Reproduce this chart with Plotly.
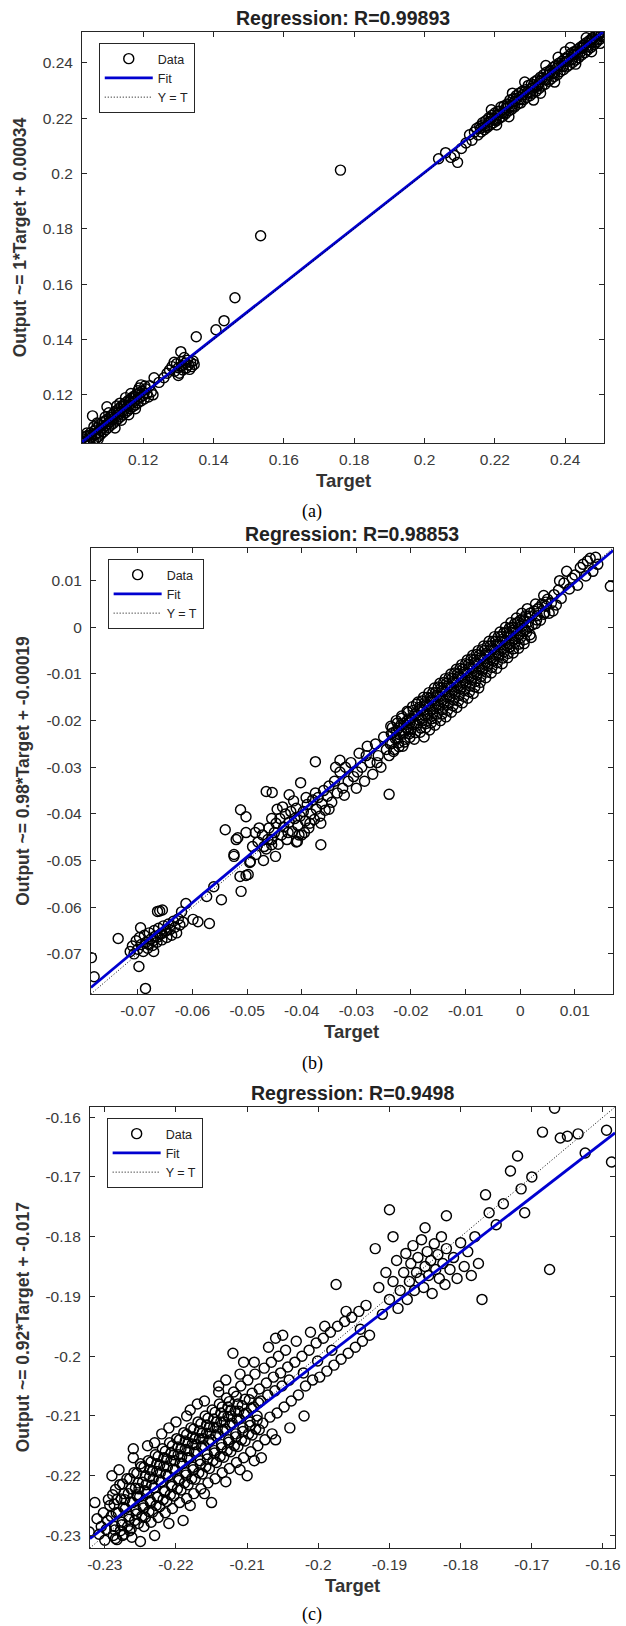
import plotly.graph_objects as go

# ---------------- DATA ----------------
# Panel (a): (target, output) pairs
a_low = [
(0.1030,0.1045),(0.1034,0.1038),(0.1038,0.1031),(0.1041,0.1052),(0.1045,0.1040),(0.1048,0.1029),(0.1050,0.1062),(0.1053,0.1047),(0.1056,0.1124),(0.1058,0.1035),
(0.1061,0.1070),(0.1063,0.1055),(0.1066,0.1042),(0.1068,0.1081),(0.1071,0.1063),(0.1073,0.1050),(0.1076,0.1092),(0.1078,0.1071),(0.1080,0.1058),(0.1083,0.1100),
(0.1085,0.1080),(0.1087,0.1066),(0.1090,0.1105),(0.1092,0.1088),(0.1094,0.1074),(0.1097,0.1157),(0.1099,0.1096),(0.1101,0.1082),(0.1104,0.1118),(0.1106,0.1103),
(0.1108,0.1090),(0.1110,0.1125),(0.1113,0.1110),(0.1115,0.1097),(0.1117,0.1135),(0.1119,0.1118),(0.1122,0.1105),(0.1124,0.1143),(0.1126,0.1126),(0.1128,0.1112),
(0.1131,0.1150),(0.1133,0.1133),(0.1135,0.1120),(0.1137,0.1158),(0.1140,0.1141),(0.1142,0.1127),(0.1144,0.1165),(0.1147,0.1148),(0.1149,0.1135),(0.1151,0.1172),
(0.1153,0.1155),(0.1156,0.1142),(0.1158,0.1180),(0.1160,0.1162),(0.1163,0.1150),(0.1165,0.1187),(0.1167,0.1170),(0.1170,0.1157),(0.1172,0.1194),(0.1175,0.1177),
(0.1177,0.1163),(0.1180,0.1200),(0.1182,0.1184),(0.1185,0.1171),(0.1188,0.1207),(0.1191,0.1191),(0.1194,0.1178),(0.1197,0.1213),(0.1200,0.1198),(0.1203,0.1185),
(0.1207,0.1222),(0.1211,0.1205),(0.1215,0.1192),(0.1219,0.1233),(0.1223,0.1210),
(0.1060,0.1085),(0.1072,0.1040),(0.1092,0.1120),(0.1120,0.1080),(0.1125,0.1160),(0.1138,0.1108),(0.1150,0.1190),(0.1165,0.1205),(0.1178,0.1150),(0.1185,0.1215),
(0.1194,0.1236),(0.1203,0.1207),(0.1228,0.1200),(0.1040,0.1062),(0.1047,0.1033),
(0.1036,0.1050),(0.1052,0.1055),(0.1065,0.1060),(0.1082,0.1088),(0.1096,0.1110),(0.1112,0.1120),(0.1130,0.1138),(0.1146,0.1160),(0.1162,0.1175),(0.1176,0.1190),
(0.1069,0.1098),(0.1102,0.1135),(0.1134,0.1170),(0.1159,0.1128),(0.1189,0.1225),(0.1205,0.1232),
]
a_mid = [
(0.1231,0.1262),(0.1259,0.1262),(0.1245,0.1245),(0.1268,0.1278),(0.1275,0.1290),(0.1282,0.1302),(0.1290,0.1285),(0.1295,0.1312),(0.1300,0.1298),(0.1303,0.1278),
(0.1308,0.1320),(0.1310,0.1305),(0.1313,0.1290),(0.1317,0.1335),(0.1320,0.1315),(0.1322,0.1296),(0.1326,0.1325),(0.1329,0.1308),(0.1332,0.1292),(0.1335,0.1318),
(0.1338,0.1302),(0.1342,0.1322),(0.1300,0.1270),(0.1288,0.1318),(0.1345,0.1310),(0.1307,0.1356),(0.1351,0.1410),(0.1407,0.1435),(0.1430,0.1468),(0.1461,0.1551),
(0.1534,0.1775),(0.1761,0.2012),
]
a_high = [
(0.2040,0.2053),(0.2060,0.2075),(0.2075,0.2058),(0.2085,0.2065),(0.2094,0.2040),(0.2105,0.2090),(0.2118,0.2110),(0.2128,0.2140),(0.2135,0.2120),(0.2142,0.2150),
(0.2148,0.2162),(0.2152,0.2139),(0.2157,0.2170),(0.2161,0.2150),(0.2165,0.2183),(0.2170,0.2158),(0.2174,0.2190),(0.2178,0.2166),(0.2183,0.2201),(0.2187,0.2175),
(0.2191,0.2209),(0.2196,0.2183),(0.2200,0.2218),(0.2204,0.2190),(0.2209,0.2225),(0.2213,0.2199),(0.2217,0.2240),(0.2222,0.2206),(0.2226,0.2244),(0.2230,0.2215),
(0.2235,0.2251),(0.2239,0.2226),(0.2243,0.2265),(0.2248,0.2232),(0.2252,0.2270),(0.2256,0.2240),(0.2261,0.2281),(0.2265,0.2250),(0.2269,0.2290),(0.2274,0.2255),
(0.2278,0.2297),(0.2282,0.2266),(0.2287,0.2302),(0.2291,0.2275),(0.2295,0.2318),(0.2300,0.2281),(0.2304,0.2323),(0.2308,0.2290),(0.2313,0.2331),(0.2317,0.2296),
(0.2321,0.2338),(0.2326,0.2307),(0.2330,0.2348),(0.2334,0.2316),(0.2339,0.2357),(0.2343,0.2322),(0.2347,0.2366),(0.2352,0.2333),(0.2356,0.2372),(0.2360,0.2341),
(0.2365,0.2383),(0.2369,0.2350),(0.2373,0.2390),(0.2378,0.2357),(0.2382,0.2398),(0.2386,0.2368),(0.2391,0.2405),(0.2395,0.2375),(0.2399,0.2415),(0.2404,0.2385),
(0.2408,0.2423),(0.2412,0.2392),(0.2417,0.2433),(0.2421,0.2401),(0.2425,0.2440),(0.2430,0.2410),(0.2434,0.2447),(0.2438,0.2418),(0.2443,0.2456),(0.2447,0.2428),
(0.2451,0.2463),(0.2456,0.2436),(0.2460,0.2472),(0.2464,0.2446),(0.2469,0.2480),(0.2473,0.2455),(0.2477,0.2490),(0.2482,0.2465),(0.2486,0.2497),(0.2490,0.2475),
(0.2495,0.2505),(0.2499,0.2485),(0.2503,0.2508),(0.2506,0.2494),
(0.2160,0.2163),(0.2172,0.2170),(0.2184,0.2187),(0.2196,0.2196),(0.2208,0.2212),(0.2220,0.2218),(0.2232,0.2236),(0.2244,0.2244),(0.2256,0.2260),(0.2268,0.2266),
(0.2280,0.2284),(0.2292,0.2292),(0.2304,0.2308),(0.2316,0.2314),(0.2328,0.2332),(0.2340,0.2340),(0.2352,0.2356),(0.2364,0.2362),(0.2376,0.2380),(0.2388,0.2388),
(0.2400,0.2404),(0.2412,0.2410),(0.2424,0.2428),(0.2436,0.2436),(0.2448,0.2452),(0.2460,0.2458),(0.2472,0.2476),(0.2484,0.2484),(0.2496,0.2500),
(0.2190,0.2230),(0.2240,0.2205),(0.2285,0.2330),(0.2310,0.2265),(0.2345,0.2390),(0.2370,0.2330),(0.2400,0.2440),(0.2430,0.2395),(0.2460,0.2490),(0.2475,0.2440),
(0.2250,0.2290),(0.2205,0.2175),(0.2330,0.2290),(0.2415,0.2455),(0.2500,0.2470),(0.2510,0.2510),(0.2380,0.2420),
(0.2166,0.2175),(0.2178,0.2172),(0.2190,0.2200),(0.2202,0.2195),(0.2214,0.2225),(0.2226,0.2218),(0.2238,0.2248),(0.2250,0.2243),(0.2262,0.2272),(0.2274,0.2267),
(0.2286,0.2296),(0.2298,0.2290),(0.2310,0.2320),(0.2322,0.2315),(0.2334,0.2344),(0.2346,0.2338),(0.2358,0.2368),(0.2370,0.2362),(0.2382,0.2392),(0.2394,0.2386),
(0.2406,0.2416),(0.2418,0.2410),(0.2430,0.2440),(0.2442,0.2434),(0.2454,0.2464),(0.2466,0.2458),(0.2478,0.2486),(0.2490,0.2482),(0.2502,0.2498),
]

# Panel (b)
b_low = [
(-0.0785,-0.0708),(-0.0780,-0.0749),(-0.0736,-0.0667),(-0.0686,-0.0774),(-0.0698,-0.0727),(-0.0671,-0.0695),(-0.0695,-0.0644),
(-0.0714,-0.0695),(-0.0710,-0.0683),(-0.0707,-0.0700),(-0.0703,-0.0672),(-0.0700,-0.0690),(-0.0697,-0.0665),(-0.0694,-0.0680),(-0.0690,-0.0695),
(-0.0688,-0.0660),(-0.0685,-0.0675),(-0.0682,-0.0688),(-0.0679,-0.0655),(-0.0676,-0.0668),(-0.0673,-0.0682),(-0.0670,-0.0650),(-0.0668,-0.0662),
(-0.0665,-0.0675),(-0.0662,-0.0645),(-0.0659,-0.0658),(-0.0656,-0.0670),(-0.0653,-0.0640),(-0.0650,-0.0652),(-0.0647,-0.0665),(-0.0644,-0.0636),
(-0.0641,-0.0648),(-0.0638,-0.0660),(-0.0635,-0.0630),(-0.0632,-0.0643),(-0.0629,-0.0655),(-0.0626,-0.0625),(-0.0623,-0.0638),(-0.0620,-0.0610),
(-0.0617,-0.0632),(-0.0680,-0.0680),(-0.0672,-0.0672),(-0.0664,-0.0664),(-0.0656,-0.0656),(-0.0648,-0.0650),(-0.0664,-0.0609),(-0.0660,-0.0608),
(-0.0655,-0.0606),
(-0.0612,-0.0592),(-0.0599,-0.0626),(-0.0590,-0.0631),(-0.0569,-0.0635),(-0.0574,-0.0577),(-0.0561,-0.0556),(-0.0547,-0.0584),(-0.0524,-0.0491),
(-0.0511,-0.0566),(-0.0502,-0.0532),(-0.0495,-0.0504),(-0.0513,-0.0534),(-0.0484,-0.0487),(-0.0469,-0.0470),(-0.0448,-0.0491),(-0.0455,-0.0466),
(-0.0408,-0.0459),(-0.0365,-0.0466),(-0.0520,-0.0455),
]
b_mid = [
(-0.0540,-0.0434),(-0.0512,-0.0391),(-0.0502,-0.0406),(-0.0517,-0.0451),(-0.0502,-0.0440),(-0.0524,-0.0487),(-0.0498,-0.0530),(-0.0494,-0.0502),
(-0.0465,-0.0352),(-0.0454,-0.0354),(-0.0423,-0.0359),(-0.0402,-0.0333),(-0.0375,-0.0288),
(-0.0480,-0.0460),(-0.0472,-0.0445),(-0.0465,-0.0475),(-0.0460,-0.0430),(-0.0455,-0.0455),(-0.0450,-0.0440),(-0.0447,-0.0420),(-0.0443,-0.0465),
(-0.0440,-0.0410),(-0.0437,-0.0445),(-0.0433,-0.0428),(-0.0430,-0.0400),(-0.0427,-0.0455),(-0.0423,-0.0418),(-0.0420,-0.0395),(-0.0417,-0.0438),
(-0.0413,-0.0410),(-0.0410,-0.0388),(-0.0407,-0.0425),(-0.0403,-0.0405),(-0.0400,-0.0445),(-0.0397,-0.0395),(-0.0393,-0.0415),(-0.0390,-0.0380),
(-0.0387,-0.0430),(-0.0383,-0.0400),(-0.0380,-0.0370),(-0.0377,-0.0412),(-0.0373,-0.0390),(-0.0370,-0.0365),(-0.0367,-0.0405),(-0.0363,-0.0378),
(-0.0360,-0.0350),(-0.0357,-0.0392),(-0.0353,-0.0362),(-0.0350,-0.0340),(-0.0345,-0.0375),(-0.0340,-0.0330),(-0.0335,-0.0355),(-0.0330,-0.0310),
(-0.0325,-0.0345),(-0.0320,-0.0300),(-0.0315,-0.0330),(-0.0310,-0.0290),(-0.0305,-0.0320),(-0.0470,-0.0500),(-0.0490,-0.0470),(-0.0485,-0.0440),
(-0.0445,-0.0390),(-0.0410,-0.0460),(-0.0395,-0.0440),(-0.0350,-0.0390),(-0.0330,-0.0285),(-0.0300,-0.0345),(-0.0295,-0.0270),(-0.0290,-0.0300),
(-0.0285,-0.0330),(-0.0280,-0.0255),(-0.0275,-0.0290),(-0.0270,-0.0315),(-0.0265,-0.0250),(-0.0260,-0.0275),(-0.0255,-0.0300),(-0.0250,-0.0235),
(-0.0245,-0.0262),(-0.0240,-0.0358),
(-0.0435,-0.0385),(-0.0425,-0.0440),(-0.0415,-0.0372),(-0.0405,-0.0445),(-0.0392,-0.0365),(-0.0385,-0.0420),(-0.0375,-0.0355),(-0.0365,-0.0420),
(-0.0455,-0.0410),(-0.0462,-0.0455),(-0.0478,-0.0430),(-0.0338,-0.0300),(-0.0322,-0.0360),(-0.0298,-0.0310),(-0.0282,-0.0275),(-0.0262,-0.0290),
]
b_high = [
(-0.0240,-0.0275),(-0.0238,-0.0250),(-0.0236,-0.0228),(-0.0234,-0.0215),
(-0.0231,-0.0262),(-0.0229,-0.0238),(-0.0227,-0.0222),(-0.0225,-0.0205),(-0.0223,-0.0248),
(-0.0221,-0.0230),(-0.0219,-0.0210),(-0.0217,-0.0195),(-0.0215,-0.0255),(-0.0213,-0.0222),
(-0.0211,-0.0240),(-0.0209,-0.0215),(-0.0207,-0.0200),(-0.0205,-0.0182),(-0.0203,-0.0228),(-0.0202,-0.0205),
(-0.0200,-0.0218),(-0.0198,-0.0195),(-0.0196,-0.0178),(-0.0194,-0.0240),(-0.0192,-0.0205),(-0.0190,-0.0165),
(-0.0189,-0.0210),(-0.0187,-0.0188),(-0.0185,-0.0172),(-0.0183,-0.0225),(-0.0181,-0.0195),(-0.0180,-0.0158),
(-0.0179,-0.0200),(-0.0177,-0.0178),(-0.0175,-0.0162),(-0.0173,-0.0215),(-0.0171,-0.0185),(-0.0170,-0.0150),(-0.0176,-0.0235),
(-0.0169,-0.0190),(-0.0167,-0.0168),(-0.0165,-0.0152),(-0.0163,-0.0205),(-0.0161,-0.0175),(-0.0160,-0.0140),(-0.0166,-0.0220),
(-0.0159,-0.0182),(-0.0157,-0.0158),(-0.0155,-0.0140),(-0.0153,-0.0195),(-0.0151,-0.0165),(-0.0150,-0.0128),(-0.0156,-0.0210),
(-0.0149,-0.0172),(-0.0147,-0.0148),(-0.0145,-0.0130),(-0.0143,-0.0186),(-0.0141,-0.0155),(-0.0140,-0.0118),(-0.0146,-0.0200),
(-0.0139,-0.0162),(-0.0137,-0.0138),(-0.0135,-0.0120),(-0.0133,-0.0178),(-0.0131,-0.0145),(-0.0130,-0.0108),(-0.0136,-0.0192),
(-0.0129,-0.0152),(-0.0127,-0.0128),(-0.0125,-0.0110),(-0.0123,-0.0168),(-0.0121,-0.0135),(-0.0120,-0.0098),(-0.0126,-0.0182),
(-0.0119,-0.0142),(-0.0117,-0.0118),(-0.0115,-0.0100),(-0.0113,-0.0158),(-0.0111,-0.0125),(-0.0110,-0.0088),(-0.0116,-0.0172),
(-0.0109,-0.0132),(-0.0107,-0.0108),(-0.0105,-0.0090),(-0.0103,-0.0148),(-0.0101,-0.0115),(-0.0100,-0.0078),(-0.0106,-0.0162),
(-0.0099,-0.0122),(-0.0097,-0.0098),(-0.0095,-0.0080),(-0.0093,-0.0138),(-0.0091,-0.0105),(-0.0090,-0.0068),(-0.0096,-0.0152),
(-0.0089,-0.0112),(-0.0087,-0.0088),(-0.0085,-0.0070),(-0.0083,-0.0128),(-0.0081,-0.0095),(-0.0080,-0.0058),(-0.0086,-0.0142),
(-0.0079,-0.0102),(-0.0077,-0.0078),(-0.0075,-0.0060),(-0.0073,-0.0118),(-0.0071,-0.0085),(-0.0070,-0.0048),(-0.0076,-0.0130),
(-0.0069,-0.0092),(-0.0067,-0.0068),(-0.0065,-0.0050),(-0.0063,-0.0108),(-0.0061,-0.0075),(-0.0060,-0.0040),
(-0.0059,-0.0082),(-0.0057,-0.0058),(-0.0055,-0.0040),(-0.0053,-0.0098),(-0.0051,-0.0065),(-0.0050,-0.0030),
(-0.0049,-0.0072),(-0.0047,-0.0048),(-0.0045,-0.0030),(-0.0043,-0.0088),(-0.0041,-0.0055),(-0.0040,-0.0020),
(-0.0039,-0.0062),(-0.0037,-0.0038),(-0.0035,-0.0020),(-0.0033,-0.0078),(-0.0031,-0.0045),(-0.0030,-0.0012),
(-0.0029,-0.0052),(-0.0027,-0.0028),(-0.0025,-0.0010),(-0.0023,-0.0065),(-0.0021,-0.0035),(-0.0020,-0.0002),
(-0.0019,-0.0042),(-0.0017,-0.0018),(-0.0015,0.0000),(-0.0013,-0.0055),(-0.0011,-0.0025),(-0.0010,0.0008),
(-0.0009,-0.0032),(-0.0007,-0.0008),(-0.0005,0.0010),(-0.0003,-0.0045),(-0.0001,-0.0015),(0.0000,0.0015),
(0.0001,-0.0022),(0.0003,0.0002),(0.0005,0.0018),(0.0007,-0.0035),(0.0009,-0.0005),(0.0010,0.0025),
(0.0012,-0.0010),(0.0015,0.0012),(0.0018,0.0030),(0.0020,-0.0022),(0.0022,0.0005),
(0.0025,0.0035),(0.0028,0.0008),(0.0031,0.0025),(0.0034,0.0042),(0.0037,0.0015),
(0.0040,0.0050),(0.0043,0.0028),(0.0047,0.0045),(0.0050,0.0060),(0.0053,0.0030),(0.0057,0.0052),
(0.0062,0.0070),(0.0066,0.0048),(0.0070,0.0080),(0.0075,0.0062),(0.0080,0.0095),(0.0085,0.0120),(0.0090,0.0082),
(0.0095,0.0105),(0.0100,0.0112),(0.0105,0.0090),(0.0110,0.0128),(0.0115,0.0135),(0.0120,0.0110),(0.0123,0.0142),
(0.0128,0.0148),(0.0133,0.0120),(0.0138,0.0150),(0.0142,0.0135),(0.0165,0.0088),(0.0060,0.0035),(0.0072,0.0100),
]
b_fill = [
(-0.0235,-0.0249),(-0.0233,-0.0226),(-0.0237,-0.0212),(-0.0232,-0.0266),
(-0.0225,-0.0239),(-0.0223,-0.0216),(-0.0227,-0.0200),(-0.0222,-0.0256),
(-0.0215,-0.0229),(-0.0213,-0.0206),(-0.0217,-0.0190),(-0.0212,-0.0246),
(-0.0205,-0.0219),(-0.0203,-0.0196),(-0.0207,-0.0180),(-0.0202,-0.0236),
(-0.0195,-0.0209),(-0.0193,-0.0186),(-0.0197,-0.0170),(-0.0192,-0.0226),
(-0.0185,-0.0199),(-0.0183,-0.0176),(-0.0187,-0.0160),(-0.0182,-0.0216),
(-0.0175,-0.0189),(-0.0173,-0.0166),(-0.0177,-0.0150),(-0.0172,-0.0206),
(-0.0165,-0.0179),(-0.0163,-0.0156),(-0.0167,-0.0140),(-0.0162,-0.0196),
(-0.0155,-0.0169),(-0.0153,-0.0146),(-0.0157,-0.0130),(-0.0152,-0.0186),
(-0.0145,-0.0159),(-0.0143,-0.0136),(-0.0147,-0.0120),(-0.0142,-0.0176),
(-0.0135,-0.0149),(-0.0133,-0.0126),(-0.0137,-0.0110),(-0.0132,-0.0166),
(-0.0125,-0.0139),(-0.0123,-0.0116),(-0.0127,-0.0100),(-0.0122,-0.0156),
(-0.0115,-0.0129),(-0.0113,-0.0106),(-0.0117,-0.0090),(-0.0112,-0.0146),
(-0.0105,-0.0119),(-0.0103,-0.0096),(-0.0107,-0.0080),(-0.0102,-0.0136),
(-0.0095,-0.0109),(-0.0093,-0.0086),(-0.0097,-0.0070),(-0.0092,-0.0126),
(-0.0085,-0.0099),(-0.0083,-0.0076),(-0.0087,-0.0060),(-0.0082,-0.0116),
(-0.0075,-0.0089),(-0.0073,-0.0066),(-0.0077,-0.0050),(-0.0072,-0.0106),
(-0.0065,-0.0079),(-0.0063,-0.0056),(-0.0067,-0.0040),(-0.0062,-0.0096),
(-0.0055,-0.0069),(-0.0053,-0.0046),(-0.0057,-0.0030),(-0.0052,-0.0086),
(-0.0045,-0.0059),(-0.0043,-0.0036),(-0.0047,-0.0020),(-0.0042,-0.0076),
(-0.0035,-0.0049),(-0.0033,-0.0026),(-0.0037,-0.0010),(-0.0032,-0.0066),
(-0.0025,-0.0039),(-0.0023,-0.0016),(-0.0027,0.0000),(-0.0022,-0.0056),
(-0.0015,-0.0029),(-0.0013,-0.0006),(-0.0017,0.0010),(-0.0012,-0.0046),
(-0.0005,-0.0019),(-0.0003,0.0004),(-0.0007,0.0020),(-0.0002,-0.0036),
(0.0005,-0.0009),(0.0007,0.0014),(0.0003,0.0030),(0.0008,-0.0026),
(0.0015,0.0001),(0.0017,0.0024),(0.0013,0.0040),(0.0018,-0.0016),
(0.0030,0.0016),(0.0032,0.0039),(0.0028,0.0050),
(0.0045,0.0031),(0.0047,0.0054),(0.0043,0.0068),
]

# Panel (c)
c_low = [
(-0.2322,-0.2294),(-0.2314,-0.2245),(-0.2308,-0.2298),(-0.2311,-0.2272),(-0.2305,-0.2285),(-0.2262,-0.2303),
(-0.2302,-0.2262),(-0.2298,-0.2290),(-0.2295,-0.2240),(-0.2300,-0.2308),(-0.2296,-0.2275),
(-0.2293,-0.2250),(-0.2288,-0.2300),(-0.2291,-0.2268),(-0.2286,-0.2285),(-0.2289,-0.2232),(-0.2285,-0.2305),
(-0.2283,-0.2240),(-0.2278,-0.2292),(-0.2281,-0.2262),(-0.2276,-0.2278),(-0.2279,-0.2215),(-0.2275,-0.2300),
(-0.2273,-0.2230),(-0.2268,-0.2285),(-0.2271,-0.2255),(-0.2266,-0.2268),(-0.2269,-0.2205),(-0.2265,-0.2292),(-0.2272,-0.2240),
(-0.2263,-0.2222),(-0.2258,-0.2275),(-0.2261,-0.2245),(-0.2256,-0.2258),(-0.2259,-0.2195),(-0.2255,-0.2232),
(-0.2253,-0.2212),(-0.2248,-0.2268),(-0.2251,-0.2235),(-0.2246,-0.2250),(-0.2249,-0.2185),(-0.2245,-0.2285),(-0.2252,-0.2222),
(-0.2243,-0.2200),(-0.2238,-0.2260),(-0.2241,-0.2228),(-0.2236,-0.2242),(-0.2239,-0.2175),(-0.2235,-0.2278),(-0.2242,-0.2215),(-0.2237,-0.2190),
(-0.2233,-0.2192),(-0.2228,-0.2250),(-0.2231,-0.2220),(-0.2226,-0.2235),(-0.2229,-0.2165),(-0.2225,-0.2270),(-0.2232,-0.2205),(-0.2227,-0.2180),
(-0.2223,-0.2182),(-0.2218,-0.2240),(-0.2221,-0.2210),(-0.2216,-0.2225),(-0.2219,-0.2155),(-0.2215,-0.2262),(-0.2222,-0.2195),(-0.2217,-0.2170),
(-0.2213,-0.2172),(-0.2208,-0.2232),(-0.2211,-0.2200),(-0.2206,-0.2215),(-0.2209,-0.2145),(-0.2205,-0.2255),(-0.2212,-0.2185),(-0.2207,-0.2162),
(-0.2203,-0.2165),(-0.2198,-0.2222),(-0.2201,-0.2190),(-0.2196,-0.2205),(-0.2199,-0.2138),(-0.2195,-0.2245),(-0.2202,-0.2175),(-0.2197,-0.2152),
(-0.2193,-0.2155),(-0.2188,-0.2212),(-0.2191,-0.2180),(-0.2186,-0.2195),(-0.2189,-0.2128),(-0.2185,-0.2238),(-0.2192,-0.2168),(-0.2187,-0.2142),
(-0.2183,-0.2145),(-0.2178,-0.2205),(-0.2181,-0.2170),(-0.2176,-0.2186),(-0.2179,-0.2120),(-0.2175,-0.2230),(-0.2182,-0.2158),(-0.2177,-0.2135),
(-0.2173,-0.2138),(-0.2168,-0.2195),(-0.2171,-0.2160),(-0.2166,-0.2175),(-0.2169,-0.2110),(-0.2165,-0.2222),(-0.2172,-0.2148),(-0.2167,-0.2125),
(-0.2163,-0.2128),(-0.2158,-0.2185),(-0.2161,-0.2150),(-0.2156,-0.2165),(-0.2159,-0.2100),(-0.2155,-0.2212),(-0.2162,-0.2138),(-0.2157,-0.2115),
(-0.2153,-0.2118),(-0.2148,-0.2175),(-0.2151,-0.2140),(-0.2146,-0.2158),(-0.2149,-0.2090),(-0.2145,-0.2205),(-0.2152,-0.2130),(-0.2147,-0.2105),
(-0.2143,-0.2110),(-0.2138,-0.2168),(-0.2141,-0.2130),(-0.2136,-0.2148),(-0.2139,-0.2080),(-0.2135,-0.2195),(-0.2142,-0.2120),(-0.2137,-0.2095),
(-0.2133,-0.2100),(-0.2128,-0.2158),(-0.2131,-0.2122),(-0.2126,-0.2140),(-0.2129,-0.2070),(-0.2125,-0.2188),(-0.2132,-0.2110),(-0.2127,-0.2085),
(-0.2123,-0.2090),(-0.2118,-0.2150),(-0.2121,-0.2112),(-0.2116,-0.2130),(-0.2119,-0.2060),(-0.2115,-0.2178),(-0.2122,-0.2100),
(-0.2113,-0.2080),(-0.2108,-0.2140),(-0.2111,-0.2105),(-0.2106,-0.2120),(-0.2109,-0.2050),(-0.2105,-0.2170),(-0.2112,-0.2092),
(-0.2103,-0.2072),(-0.2098,-0.2130),(-0.2101,-0.2095),(-0.2096,-0.2110),(-0.2099,-0.2040),(-0.2095,-0.2160),
(-0.2093,-0.2062),(-0.2088,-0.2122),(-0.2091,-0.2085),(-0.2086,-0.2100),(-0.2089,-0.2030),(-0.2085,-0.2150),
(-0.2083,-0.2055),(-0.2078,-0.2112),(-0.2081,-0.2075),(-0.2076,-0.2020),(-0.2075,-0.2140),
(-0.2073,-0.2045),(-0.2068,-0.2102),(-0.2071,-0.2065),(-0.2066,-0.2010),(-0.2065,-0.2130),
(-0.2063,-0.2035),(-0.2058,-0.2095),(-0.2061,-0.2058),(-0.2056,-0.2000),
(-0.2220,-0.2130),(-0.2180,-0.2090),(-0.2260,-0.2155),(-0.2140,-0.2050),(-0.2105,-0.2010),(-0.2250,-0.2180),
(-0.2190,-0.2275),(-0.2150,-0.2245),(-0.2100,-0.2200),(-0.2080,-0.2170),(-0.2120,-0.1995),(-0.2060,-0.1970),
]
c_fill = [
(-0.2283,-0.2307),(-0.2286,-0.2291),(-0.2284,-0.2262),(-0.2287,-0.2248),(-0.2285,-0.2223),
(-0.2273,-0.2298),(-0.2276,-0.2282),(-0.2274,-0.2253),(-0.2277,-0.2239),(-0.2275,-0.2214),
(-0.2263,-0.2289),(-0.2266,-0.2273),(-0.2264,-0.2244),(-0.2267,-0.2230),(-0.2265,-0.2205),
(-0.2253,-0.2280),(-0.2256,-0.2264),(-0.2254,-0.2235),(-0.2257,-0.2221),(-0.2255,-0.2196),
(-0.2243,-0.2270),(-0.2246,-0.2254),(-0.2244,-0.2225),(-0.2247,-0.2211),(-0.2245,-0.2186),
(-0.2233,-0.2261),(-0.2236,-0.2245),(-0.2234,-0.2216),(-0.2237,-0.2202),(-0.2235,-0.2177),
(-0.2223,-0.2252),(-0.2226,-0.2236),(-0.2224,-0.2207),(-0.2227,-0.2193),(-0.2225,-0.2168),
(-0.2213,-0.2243),(-0.2216,-0.2227),(-0.2214,-0.2198),(-0.2217,-0.2184),(-0.2215,-0.2159),
(-0.2203,-0.2234),(-0.2206,-0.2218),(-0.2204,-0.2189),(-0.2207,-0.2175),(-0.2205,-0.2150),
(-0.2193,-0.2224),(-0.2196,-0.2208),(-0.2194,-0.2179),(-0.2197,-0.2165),(-0.2195,-0.2140),
(-0.2183,-0.2215),(-0.2186,-0.2199),(-0.2184,-0.2170),(-0.2187,-0.2156),(-0.2185,-0.2131),
(-0.2173,-0.2206),(-0.2176,-0.2190),(-0.2174,-0.2161),(-0.2177,-0.2147),(-0.2175,-0.2122),
(-0.2163,-0.2197),(-0.2166,-0.2181),(-0.2164,-0.2152),(-0.2167,-0.2138),(-0.2165,-0.2113),
(-0.2153,-0.2188),(-0.2156,-0.2172),(-0.2154,-0.2143),(-0.2157,-0.2129),(-0.2155,-0.2104),
(-0.2143,-0.2178),(-0.2146,-0.2162),(-0.2144,-0.2133),(-0.2147,-0.2119),(-0.2145,-0.2094),
(-0.2133,-0.2169),(-0.2136,-0.2153),(-0.2134,-0.2124),(-0.2137,-0.2110),(-0.2135,-0.2085),
(-0.2123,-0.2160),(-0.2126,-0.2144),(-0.2124,-0.2115),(-0.2127,-0.2101),(-0.2125,-0.2076),
(-0.2113,-0.2151),(-0.2116,-0.2135),(-0.2114,-0.2106),(-0.2117,-0.2092),(-0.2115,-0.2067),
(-0.2103,-0.2142),(-0.2106,-0.2126),(-0.2104,-0.2097),(-0.2107,-0.2083),
(-0.2093,-0.2132),(-0.2096,-0.2116),(-0.2094,-0.2087),(-0.2097,-0.2073),
(-0.2083,-0.2123),(-0.2086,-0.2107),(-0.2084,-0.2078),
(-0.2290,-0.2200),(-0.2280,-0.2190),(-0.2260,-0.2170),(-0.2240,-0.2150),(-0.2230,-0.2145),(-0.2210,-0.2120),(-0.2200,-0.2110),(-0.2185,-0.2100),
(-0.2170,-0.2080),(-0.2160,-0.2075),(-0.2140,-0.2060),(-0.2130,-0.2040),(-0.2110,-0.2030),(-0.2090,-0.2010),(-0.2070,-0.1985),(-0.2050,-0.1965),
(-0.2250,-0.2310),(-0.2230,-0.2300),(-0.2210,-0.2280),(-0.2180,-0.2250),(-0.2160,-0.2230),(-0.2130,-0.2210),(-0.2110,-0.2190),(-0.2090,-0.2175),
(-0.2060,-0.2140),(-0.2040,-0.2120),(-0.2020,-0.2100),
]
c_mid = [
(-0.2053,-0.2028),(-0.2048,-0.2085),(-0.2051,-0.2050),(-0.2046,-0.1990),
(-0.2043,-0.2018),(-0.2038,-0.2075),(-0.2041,-0.2040),
(-0.2033,-0.2010),(-0.2028,-0.2065),(-0.2031,-0.1975),
(-0.2023,-0.2000),(-0.2018,-0.2050),(-0.2021,-0.2028),
(-0.2013,-0.1990),(-0.2008,-0.2040),(-0.2011,-0.1960),
(-0.2003,-0.1978),(-0.1998,-0.2035),(-0.2001,-0.2008),
(-0.1993,-0.1970),(-0.1988,-0.2025),(-0.1991,-0.1950),
(-0.1983,-0.1960),(-0.1978,-0.2015),(-0.1981,-0.1990),
(-0.1973,-0.1950),(-0.1968,-0.2005),
(-0.1963,-0.1942),(-0.1958,-0.1995),(-0.1961,-0.1925),
(-0.1953,-0.1935),(-0.1948,-0.1985),
(-0.1943,-0.1925),(-0.1938,-0.1975),(-0.1941,-0.1955),
(-0.1933,-0.1915),(-0.1928,-0.1965),(-0.1975,-0.1880),
]
c_high = [
(-0.1915,-0.1885),(-0.1910,-0.1930),(-0.1905,-0.1860),(-0.1900,-0.1905),(-0.1895,-0.1875),(-0.1890,-0.1840),(-0.1888,-0.1920),(-0.1885,-0.1890),
(-0.1880,-0.1860),(-0.1877,-0.1828),(-0.1875,-0.1905),(-0.1872,-0.1875),(-0.1870,-0.1845),(-0.1867,-0.1815),(-0.1865,-0.1890),(-0.1862,-0.1860),
(-0.1860,-0.1835),(-0.1857,-0.1870),(-0.1855,-0.1805),(-0.1852,-0.1885),(-0.1850,-0.1850),(-0.1847,-0.1825),(-0.1845,-0.1865),(-0.1842,-0.1840),
(-0.1840,-0.1895),(-0.1837,-0.1812),(-0.1835,-0.1855),(-0.1832,-0.1830),(-0.1830,-0.1870),(-0.1827,-0.1800),(-0.1825,-0.1845),(-0.1822,-0.1880),
(-0.1820,-0.1820),(-0.1815,-0.1855),(-0.1810,-0.1835),(-0.1805,-0.1870),(-0.1800,-0.1810),(-0.1795,-0.1850),(-0.1790,-0.1825),(-0.1785,-0.1865),
(-0.1780,-0.1800),(-0.1775,-0.1845),(-0.1770,-0.1905),(-0.1900,-0.1755),(-0.1820,-0.1765),(-0.1850,-0.1785),(-0.1895,-0.1800),(-0.1920,-0.1820),
(-0.1750,-0.1780),(-0.1740,-0.1745),(-0.1730,-0.1690),(-0.1720,-0.1665),(-0.1715,-0.1720),(-0.1710,-0.1760),(-0.1700,-0.1700),(-0.1685,-0.1625),
(-0.1675,-0.1855),(-0.1668,-0.1585),(-0.1660,-0.1635),(-0.1650,-0.1632),(-0.1635,-0.1628),(-0.1625,-0.1660),(-0.1595,-0.1622),(-0.1588,-0.1675),
(-0.1760,-0.1760),(-0.1765,-0.1730),
]

# Fit equations (slope, intercept) and axis limits
fit_a = (1.0, 0.00034)
fit_b = (0.98, -0.00019)
fit_c = (0.92, -0.017)
lim_a = [0.1026, 0.2511]
lim_b = [-0.0786, 0.0170]
lim_c = [-0.2321, -0.1583]

ticks_a = [0.12, 0.14, 0.16, 0.18, 0.20, 0.22, 0.24]
ticklab_a = ["0.12", "0.14", "0.16", "0.18", "0.2", "0.22", "0.24"]
ticks_b = [-0.07, -0.06, -0.05, -0.04, -0.03, -0.02, -0.01, 0.0, 0.01]
ticklab_b = ["-0.07", "-0.06", "-0.05", "-0.04", "-0.03", "-0.02", "-0.01", "0", "0.01"]
ticks_c = [-0.23, -0.22, -0.21, -0.20, -0.19, -0.18, -0.17, -0.16]
ticklab_c = ["-0.23", "-0.22", "-0.21", "-0.2", "-0.19", "-0.18", "-0.17", "-0.16"]

titles = ["Regression: R=0.99893", "Regression: R=0.98853", "Regression: R=0.9498"]
ylabels = ["Output ~= 1*Target + 0.00034", "Output ~= 0.98*Target + -0.00019",
           "Output ~= 0.92*Target + -0.017"]
captions = ["(a)", "(b)", "(c)"]

# ---------------- LAYOUT (pixel boxes) ----------------
W, H = 626, 1626
boxes = [  # left, top, right, bottom in page pixels
    (80, 32, 609, 443),
    (89, 548, 618, 994),
    (88, 1107, 620, 1548),
]
ylabel_x = [18, 20, 20]
caption_dy = [69, 69, 66]

SANS = "Liberation Sans, Arial, Helvetica, sans-serif"
SERIF = "Liberation Serif, Times New Roman, serif"
AX = "#262626"

panels = [
    (a_low + a_mid + a_high, fit_a, lim_a, ticks_a, ticklab_a),
    (b_low + b_mid + b_high + b_fill, fit_b, lim_b, ticks_b, ticklab_b),
    (c_low + c_fill + c_mid + c_high, fit_c, lim_c, ticks_c, ticklab_c),
]

fig = go.Figure()
layout = dict(width=W, height=H, margin=dict(l=0, r=0, t=0, b=0),
              paper_bgcolor="white", plot_bgcolor="white", showlegend=True)
annotations = []

for i, (pts, fit, lim, tv, tt) in enumerate(panels):
    n = "" if i == 0 else str(i + 1)
    xa, ya = "x" + n, "y" + n
    leg = "legend" + n
    l, t, r, b = boxes[i]
    tx = [p[0] for p in pts]
    oy = [p[1] for p in pts]
    slope, icpt = fit
    fx = [lim[0], lim[1]]
    fy = [slope * v + icpt for v in fx]
    fig.add_trace(go.Scatter(x=tx, y=oy, mode="markers", name="Data", xaxis=xa, yaxis=ya,
                             legend=leg, cliponaxis=True,
                             marker=dict(symbol="circle-open", size=10, color="black",
                                         line=dict(width=1.45, color="black"))))
    fig.add_trace(go.Scatter(x=fx, y=fy, mode="lines", name="Fit", xaxis=xa, yaxis=ya,
                             legend=leg, line=dict(color="#0000d0", width=2.8)))
    fig.add_trace(go.Scatter(x=fx, y=fx, mode="lines", name="Y = T", xaxis=xa, yaxis=ya,
                             legend=leg, line=dict(color="black", width=1, dash="1px,2px")))
    axcommon = dict(range=lim, showgrid=False, zeroline=False, showline=True, linecolor=AX,
                    linewidth=1, mirror="allticks", ticks="inside", ticklen=5, tickwidth=1,
                    tickcolor=AX, tickvals=tv, ticktext=tt, ticklabeloverflow="allow",
                    tickfont=dict(family=SANS, size=15.5, color="#3a3a3a"))
    layout["xaxis" + n] = dict(axcommon, domain=[l / W, r / W], anchor=ya, ticklabelstandoff=2)
    layout["yaxis" + n] = dict(axcommon, domain=[1 - b / H, 1 - t / H], anchor=xa, ticklabelstandoff=5)
    layout[leg] = dict(x=(l + 17) / W, y=1 - (t + 11) / H, xanchor="left", yanchor="top",
                       bgcolor="white", bordercolor=AX, borderwidth=1,
                       font=dict(family=SANS, size=12.5, color="#222"),
                       itemwidth=48, tracegroupgap=0)
    cx = (l + r) / 2
    annotations.append(dict(text="<b>" + titles[i] + "</b>", x=cx / W, y=1 - (t - 14) / H,
                            xref="paper", yref="paper", showarrow=False,
                            font=dict(family=SANS, size=19.5, color="#222"), yanchor="middle"))
    annotations.append(dict(text="<b>Target</b>", x=cx / W, y=1 - (b + 37) / H,
                            xref="paper", yref="paper", showarrow=False,
                            font=dict(family=SANS, size=18.5, color="#333"), yanchor="middle"))
    annotations.append(dict(text="<b>" + ylabels[i] + "</b>", x=ylabel_x[i] / W,
                            y=1 - ((t + b) / 2) / H,
                            xref="paper", yref="paper", showarrow=False, textangle=-90,
                            font=dict(family=SANS, size=17.5, color="#333"),
                            xanchor="center", yanchor="middle"))
    annotations.append(dict(text=captions[i], x=313 / W, y=1 - (b + caption_dy[i]) / H,
                            xref="paper", yref="paper", showarrow=False,
                            font=dict(family=SERIF, size=18, color="black"), yanchor="middle"))

layout["annotations"] = annotations
fig.update_layout(**layout)
fig.write_html("out.html", config={"displayModeBar": False},
               post_script="document.body.style.margin='0px';document.body.style.overflow='hidden';")
